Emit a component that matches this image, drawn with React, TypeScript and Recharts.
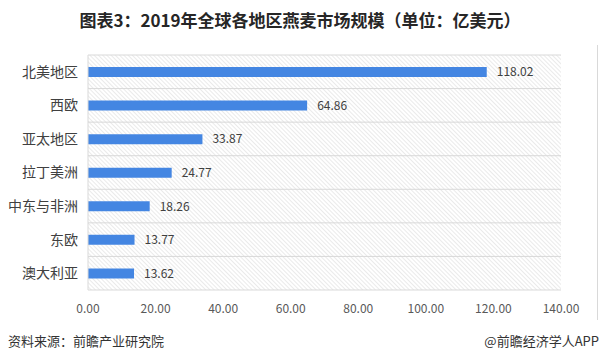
import React from "react";
import {
  BarChart, Bar, XAxis, YAxis, CartesianGrid, LabelList,
} from "recharts";

const regions = ["北美地区", "西欧", "亚太地区", "拉丁美洲", "中东与非洲", "东欧", "澳大利亚"];
const sizes = [118.02, 64.86, 33.87, 24.77, 18.26, 13.77, 13.62];
const xTicks = [0, 20, 40, 60, 80, 100, 120, 140];

const FONT = '"Noto Sans CJK SC", "Noto Sans", sans-serif';

const data = regions.map((name, i) => ({ name, value: sizes[i] }));

export default function App() {
  return (
    <div
      style={{
        position: "fixed",
        top: 0,
        left: 0,
        width: 600,
        height: 360,
        background: "#fff",
        fontFamily: FONT,
        overflow: "hidden",
      }}
    >
      <div
        style={{
          position: "absolute",
          top: 8,
          left: 0,
          width: 600,
          textAlign: "center",
          fontSize: 17,
          fontWeight: 700,
          color: "#262626",
          lineHeight: "24px",
          whiteSpace: "nowrap",
        }}
      >
        图表3：2019年全球各地区燕麦市场规模（单位：亿美元）
      </div>
      <div
        style={{
          position: "absolute",
          left: 597,
          top: 45,
          width: 0,
          height: 275,
          borderLeft: "1px solid #d9d9d9",
        }}
      />
      <div style={{ position: "absolute", top: 0, left: 0 }}>
        <BarChart
          width={600}
          height={360}
          data={data}
          layout="vertical"
          barSize={10}
          margin={{ top: 55, right: 39, left: 8, bottom: 40 }}
        >
          <defs>
            <pattern id="hatch" width="3" height="3" patternUnits="userSpaceOnUse" patternTransform="rotate(-45)">
              <rect width="3" height="3" fill="#ffffff" />
              <line x1="0" y1="0" x2="0" y2="3" stroke="#d6d6d6" strokeWidth="1" />
            </pattern>
          </defs>
          <CartesianGrid
            fill="url(#hatch)"
            vertical={false}
            stroke="#d9d9d9"
            horizontalCoordinatesGenerator={({ offset }: any) =>
              regions.map((_, i) => offset.top + (offset.height * i) / regions.length).concat(offset.top + offset.height)
            }
          />
          <XAxis
            type="number"
            domain={[0, 140]}
            ticks={xTicks}
            axisLine={false}
            tickLine={false}
            tickMargin={8}
            height={30}
            tick={{ fill: "#595959", fontSize: 12, fontFamily: FONT }}
            tickFormatter={(v: number) => v.toFixed(2)}
          />
          <YAxis
            type="category"
            dataKey="name"
            width={80}
            axisLine={{ stroke: "#d9d9d9" }}
            tickLine={false}
            tickMargin={4}
            tick={{ fill: "#404040", fontSize: 14, fontFamily: FONT }}
          />
          <Bar dataKey="value" fill="#4486e2" isAnimationActive={false}>
            <LabelList
              dataKey="value"
              position="right"
              offset={10}
              fill="#404040"
              fontSize={12}
              fontFamily={FONT}
              formatter={(v: any) => Number(v).toFixed(2)}
            />
          </Bar>
        </BarChart>
      </div>
      <div
        style={{
          position: "absolute",
          left: 8,
          top: 332,
          fontSize: 13,
          color: "#333",
          lineHeight: "18px",
          whiteSpace: "nowrap",
        }}
      >
        资料来源：前瞻产业研究院
      </div>
      <div
        style={{
          position: "absolute",
          left: 380,
          width: 219,
          top: 332,
          fontSize: 13,
          color: "#333",
          lineHeight: "18px",
          whiteSpace: "nowrap",
          textAlign: "right",
        }}
      >
        @前瞻经济学人APP
      </div>
    </div>
  );
}
